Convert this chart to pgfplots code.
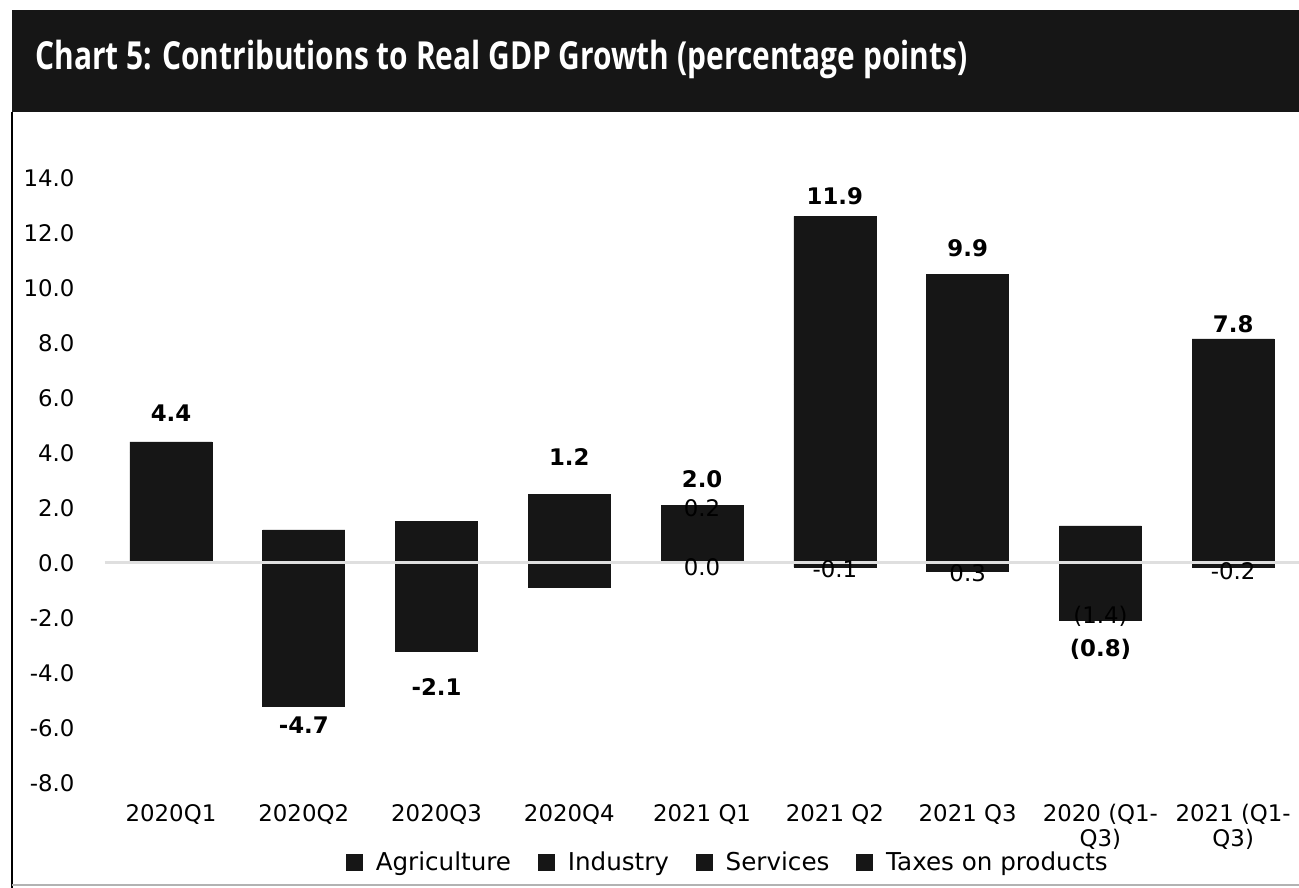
\documentclass[border=0pt]{standalone}
\usepackage{fontspec}
\setmainfont{DejaVu Sans}
\newfontfamily\titlefont{Open Sans}
\usepackage{pgfplots}
\pgfplotsset{compat=1.18}
\definecolor{barblk}{RGB}{22,22,22}
\pgfplotsset{
  base/.style={scale only axis, width=23.9cm, height=12.1cm,
    xmin=-0.5, xmax=8.5, ymin=-8, ymax=14,
    at={(2.092cm,2.1cm)}, anchor=south west},
  seg/.style={fill=barblk, draw=barblk, line width=0.4pt},
}
\begin{document}
\begin{tikzpicture}
\useasboundingbox (0,0) rectangle (25.98,17.76);
% title band and frame
\fill[barblk] (0.24,15.52) rectangle (25.98,17.56);
\node[anchor=base west, inner sep=0, text=white] at (0.7,16.36)
  {\resizebox{18.64cm}{\height}{\titlefont\bfseries\fontsize{22}{26}\selectfont Chart 5: Contributions to Real GDP Growth (percentage points)}};
\draw[black, line width=0.04cm] (0.24,15.52) -- (0.24,0);
\draw[gray!60, line width=0.04cm] (0.24,0.06) -- (25.98,0.06);

% negative parts
\begin{axis}[base, hide axis, ybar stacked, bar width=1.64cm]
\addplot[seg] coordinates {(0,0) (1,0) (2,0) (3,-0.3) (4,0) (5,-0.15) (6,-0.3) (7,0) (8,-0.15)};
\addplot[seg] coordinates {(0,0) (1,-2.4) (2,-2.6) (3,-0.6) (4,0) (5,0) (6,0) (7,-1.4) (8,0)};
\addplot[seg] coordinates {(0,0) (1,-2.8) (2,0) (3,0) (4,0) (5,0) (6,0) (7,0) (8,0)};
\addplot[seg] coordinates {(0,0) (1,0) (2,-0.6) (3,0) (4,0) (5,0) (6,0) (7,-0.7) (8,0)};
\end{axis}

% positive parts, ticks and legend
\begin{axis}[base, ybar stacked, bar width=1.64cm,
  axis lines=left, axis line style={draw=none}, major tick length=0pt,
  xtick={0,...,8},
  xticklabels={2020Q1,2020Q2,2020Q3,2020Q4,2021 Q1,2021 Q2,2021 Q3,{2020 (Q1-\\Q3)},{2021 (Q1-\\Q3)}},
  ytick={-8,-6,...,14},
  yticklabels={-8.0,-6.0,-4.0,-2.0,0.0,2.0,4.0,6.0,8.0,10.0,12.0,14.0},
  tick label style={font=\fontsize{13}{14.2}\selectfont},
  xticklabel style={align=center, yshift=-0.3cm},
  yticklabel style={xshift=-0.48cm},
  legend columns=-1,
  legend style={at={(0.522,-0.1306)}, anchor=center, draw=none, fill=none,
    font=\fontsize{14}{16}\selectfont,
    /tikz/every odd column/.append style={column sep=0.2cm},
    /tikz/every even column/.append style={column sep=0.46cm}},
  legend image code/.code={\fill[barblk] (0cm,-0.16cm) rectangle (0.32cm,0.16cm);},
]
\addplot[seg] coordinates {(0,0.1) (1,0.2) (2,0.2) (3,0) (4,0.0) (5,0) (6,0) (7,0.2) (8,0)};
\addlegendentry{Agriculture}
\addplot[seg] coordinates {(0,1.3) (1,0) (2,0) (3,0) (4,1.1) (5,6.5) (6,5.0) (7,0) (8,4.3)};
\addlegendentry{Industry}
\addplot[seg] coordinates {(0,2.6) (1,0) (2,1.3) (3,2.1) (4,0.8) (5,4.6) (6,4.3) (7,1.15) (8,3.0)};
\addlegendentry{Services}
\addplot[seg] coordinates {(0,0.4) (1,1.0) (2,0) (3,0.4) (4,0.2) (5,1.5) (6,1.2) (7,0) (8,0.85)};
\addlegendentry{Taxes on products}
\end{axis}

% zero line and labels
\begin{axis}[base, hide axis]
\addplot[color=gray!25, line width=0.06cm, mark=none] coordinates {(-0.5,0) (8.5,0)};
\addplot[draw=none, mark=none, nodes near coords, point meta=explicit symbolic,
  every node near coord/.append style={anchor=center, text=black, font=\fontsize{13}{14}\selectfont}]
  coordinates {(4,2.0)[0.2] (4,-0.15)[0.0] (5,-0.22)[-0.1] (6,-0.36)[0.3] (7,-1.95)[(1.4)] (8,-0.3)[-0.2]};
\addplot[draw=none, mark=none, nodes near coords, point meta=explicit symbolic,
  every node near coord/.append style={anchor=center, text=black, font=\bfseries\fontsize{13}{14}\selectfont}]
  coordinates {(0,5.45)[4.4] (1,-5.9)[-4.7] (2,-4.5)[-2.1] (3,3.85)[1.2] (4,3.05)[2.0] (5,13.35)[11.9] (6,11.45)[9.9] (7,-3.13)[(0.8)] (8,8.7)[7.8]};
\end{axis}
\end{tikzpicture}
\end{document}
